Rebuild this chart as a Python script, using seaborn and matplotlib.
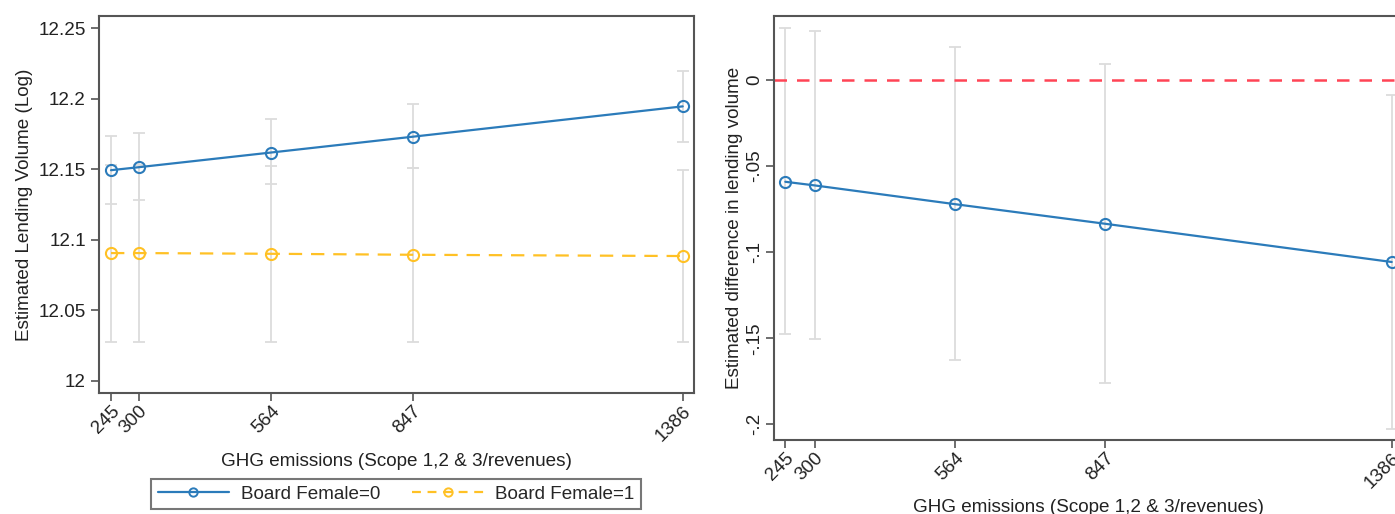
import numpy as np
import pandas as pd
import seaborn as sns
import matplotlib
matplotlib.use('Agg')
import matplotlib.pyplot as plt
from matplotlib.lines import Line2D

# values
ghg = [245, 300, 564, 847, 1386]
ghg_labels = ['245', '300', '564', '847', '1386']

female0_est = [12.1493, 12.1514, 12.1618, 12.1730, 12.1945]
female0_lo = [12.1252, 12.1280, 12.1392, 12.1510, 12.1690]
female0_hi = [12.1734, 12.1753, 12.1853, 12.1959, 12.2195]

female1_est = [12.0906, 12.0906, 12.0901, 12.0894, 12.0885]
female1_lo = [12.0278, 12.0278, 12.0278, 12.0278, 12.0278]
female1_hi = [12.1530, 12.1530, 12.1523, 12.1510, 12.1493]

diff_est = [-0.0591, -0.0612, -0.0721, -0.0835, -0.1057]
diff_lo = [-0.1477, -0.1506, -0.1627, -0.1762, -0.2027]
diff_hi = [0.0300, 0.0285, 0.0190, 0.0093, -0.0087]

left_yticks = [12, 12.05, 12.1, 12.15, 12.2, 12.25]
left_ylabels = ['12', '12.05', '12.1', '12.15', '12.2', '12.25']
right_yticks = [-0.2, -0.15, -0.1, -0.05, 0]
right_ylabels = ['-.2', '-.15', '-.1', '-.05', '0']

blue = '#2b7bba'
yellow = '#ffc125'
red = '#ff4455'
ci_gray = '#dcdcdc'
frame = '#555555'
fs = 13.6

sns.set_style('white')
plt.rcParams['font.family'] = ['Liberation Sans', 'DejaVu Sans']
plt.rcParams['font.size'] = fs

fig = plt.figure(figsize=(13.95, 5.14), dpi=100)
W, H = 1395, 514
ax1 = fig.add_axes([99 / W, (H - 393) / H, (694 - 99) / W, (393 - 16) / H])
ax2 = fig.add_axes([774 / W, (H - 440) / H, (1403.7 - 774) / W, (440 - 16) / H])


def draw_ci(ax, est, lo, hi):
    est = np.array(est)
    yerr = [est - np.array(lo), np.array(hi) - est]
    ax.errorbar(ghg, est, yerr=yerr, fmt='none', ecolor=ci_gray,
                elinewidth=1.3, capsize=4, capthick=1.3, zorder=1)


def draw_line(ax, est, color, ls, label):
    sns.lineplot(x=ghg, y=est, ax=ax, color=color, linewidth=1.6,
                 linestyle=ls, marker='o', markersize=8,
                 markerfacecolor='none', markeredgecolor=color,
                 markeredgewidth=1.5, label=label, zorder=3, legend=False)


def style_axes(ax):
    for s in ax.spines.values():
        s.set_color(frame)
        s.set_linewidth(1.5)
    ax.tick_params(axis='both', direction='out', length=6, width=1.2,
                   color=frame, labelsize=fs, labelcolor='#222222',
                   bottom=True, left=True)
    ax.tick_params(axis='x', pad=1)
    ax.set_xticks(ghg)
    ax.set_xticklabels(ghg_labels, rotation=45, ha='right',
                       rotation_mode='anchor')


# left panel
draw_ci(ax1, female0_est, female0_lo, female0_hi)
draw_ci(ax1, female1_est, female1_lo, female1_hi)
draw_line(ax1, female0_est, blue, '-', 'Board Female=0')
draw_line(ax1, female1_est, yellow, (0, (6, 4)), 'Board Female=1')
ax1.set_xlim(221, 1408.5)
ax1.set_ylim(11.9915, 12.2585)
style_axes(ax1)
ax1.set_yticks(left_yticks)
ax1.set_yticklabels(left_ylabels)
ax1.set_xlabel('GHG emissions (Scope 1,2 & 3/revenues)', fontsize=fs,
               color='#222222', labelpad=6)
ax1.set_ylabel('Estimated Lending Volume (Log)', fontsize=fs,
               color='#222222', labelpad=4)

# right panel
ax2.axhline(0, color=red, linewidth=1.8, linestyle=(0, (5, 4)), zorder=2)
draw_ci(ax2, diff_est, diff_lo, diff_hi)
draw_line(ax2, diff_est, blue, '-', None)
ax2.set_xlim(223.7, 1408.5)
ax2.set_ylim(-0.2091, 0.0372)
style_axes(ax2)
ax2.set_yticks(right_yticks)
ax2.set_yticklabels(right_ylabels, rotation=90, va='center')
ax2.tick_params(axis='y', pad=2)
ax2.set_xlabel('GHG emissions (Scope 1,2 & 3/revenues)', fontsize=fs,
               color='#222222', labelpad=5)
ax2.set_ylabel('Estimated difference in lending volume', fontsize=fs,
               color='#222222', labelpad=2)

handles = [
    Line2D([], [], color=blue, lw=1.6, marker='o', markersize=6,
           markerfacecolor='none', markeredgewidth=1.4),
    Line2D([], [], color=yellow, lw=1.6, linestyle=(0, (4, 3)), marker='o',
           markersize=6, markerfacecolor='none', markeredgewidth=1.4),
]
leg = fig.legend(handles, ['Board Female=0', 'Board Female=1'], ncol=2,
                 loc='center', bbox_to_anchor=(396 / W, (H - 494) / H),
                 frameon=True, fancybox=False, edgecolor=frame,
                 fontsize=fs, handlelength=3.8, columnspacing=1.7,
                 borderpad=0.35, handletextpad=0.6)
leg.get_frame().set_linewidth(1.5)

fig.savefig('out.png', dpi=100)
